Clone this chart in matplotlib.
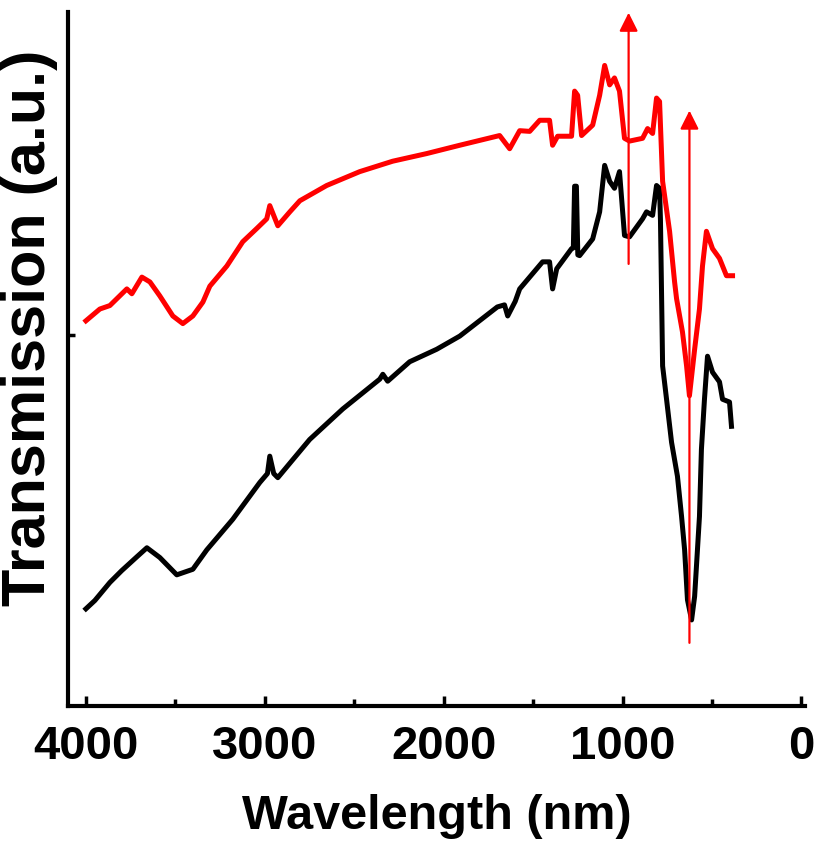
import matplotlib
matplotlib.use("Agg")
import matplotlib.pyplot as plt
from matplotlib.ticker import MultipleLocator

# ---- data (wavelength in nm, transmission in a.u.) ----
black_wl = [4000, 3950, 3866, 3800, 3715, 3659, 3587, 3492, 3402, 3324, 3179, 3028,
            2985, 2972, 2950, 2927, 2843, 2749, 2564, 2357, 2340, 2313, 2190, 2039,
            1910, 1700, 1660, 1642, 1600, 1575, 1447, 1408, 1395, 1391, 1368, 1285,
            1275, 1268, 1258, 1250, 1240, 1167, 1128, 1100, 1072, 1045, 1017, 989,
            961, 888, 866, 832, 810, 793, 788, 780, 776, 754, 726, 693, 670, 653,
            637, 614, 597, 570, 559, 542, 525, 497, 458, 441, 402, 391]
black_val = [14.0, 15.2, 17.8, 19.5, 21.5, 22.8, 21.4, 18.9, 19.7, 22.5, 26.9, 32.2,
             33.5, 36.0, 33.5, 32.9, 35.5, 38.4, 42.8, 47.1, 47.8, 46.8, 49.6, 51.4,
             53.3, 57.5, 57.8, 56.2, 58.3, 60.1, 64.0, 64.0, 61.0, 60.1, 63.0, 65.9,
             66.0, 74.9, 74.9, 65.0, 64.9, 67.3, 71.2, 77.9, 75.6, 74.6, 77.0, 67.8,
             67.6, 70.2, 71.2, 70.7, 75.0, 74.6, 70.0, 56.1, 49.0, 44.2, 38.0, 33.1,
             27.3, 22.5, 15.3, 12.4, 15.8, 27.3, 37.0, 44.2, 50.4, 48.1, 46.7, 44.2,
             43.8, 40.3]

red_wl = [4000, 3922, 3866, 3771, 3743, 3687, 3642, 3587, 3514, 3458, 3402, 3346,
          3307, 3212, 3123, 3045, 2989, 2972, 2927, 2860, 2804, 2654, 2469, 2285,
          2095, 1910, 1687, 1631, 1575, 1519, 1463, 1408, 1391, 1363, 1285, 1268,
          1251, 1229, 1167, 1128, 1100, 1072, 1045, 1017, 989, 961, 888, 860, 832,
          810, 793, 776, 737, 709, 698, 665, 642, 626, 597, 570, 553, 531, 497, 458,
          419, 385]
red_val = [55.5, 57.2, 57.7, 60.1, 59.4, 61.8, 61.1, 59.1, 56.2, 55.1, 56.2, 58.2,
           60.5, 63.4, 66.9, 68.8, 70.2, 72.1, 69.2, 71.2, 72.8, 75.0, 77.0, 78.5,
           79.6, 80.8, 82.2, 80.3, 82.9, 82.8, 84.4, 84.4, 80.8, 82.1, 82.1, 88.6,
           88.0, 82.2, 83.7, 88.0, 92.3, 89.5, 90.5, 88.6, 81.8, 81.4, 81.8, 83.2,
           82.5, 87.6, 87.1, 75.6, 68.4, 61.1, 58.7, 53.9, 49.0, 44.7, 51.4, 57.2,
           63.4, 68.4, 65.9, 64.5, 62.0, 62.0]

# arrows: (wavelength, start value, tip value)
arrow_wl = [966, 626]
arrow_start = [63.7, 9.1]
arrow_tip = [99.9, 85.8]

xticks_major = [4000, 3000, 2000, 1000, 0]
xlabel = "Wavelength (nm)"
ylabel = "Transmission (a.u.)"

plt.rcParams['font.family'] = ['Liberation Sans', 'DejaVu Sans']
plt.rcParams['font.weight'] = 'bold'

fig = plt.figure(figsize=(8.14, 8.46), dpi=100)
ax = fig.add_axes([68/814, 140/846, (805-68)/814, (706-12)/846])

ax.plot(black_wl, black_val, color='black', lw=3.6, solid_joinstyle='round')
ax.plot(red_wl, red_val, color='#ff0000', lw=3.6, solid_joinstyle='round')

for w, s, t in zip(arrow_wl, arrow_start, arrow_tip):
    ax.annotate('', xy=(w, t), xytext=(w, s),
                arrowprops=dict(arrowstyle='-|>', color='#ff0000', lw=1.6,
                                mutation_scale=28, shrinkA=0, shrinkB=0),
                annotation_clip=False)

ax.set_xlim(4100, -20)
ax.set_ylim(0, 100)
ax.set_xticks(xticks_major)
ax.xaxis.set_minor_locator(MultipleLocator(500))
ax.set_yticks([53.5])
ax.set_yticklabels([])

for side in ['top', 'right']:
    ax.spines[side].set_visible(False)
for side in ['left', 'bottom']:
    ax.spines[side].set_linewidth(3.0)

ax.tick_params(axis='x', which='major', direction='in', length=7, width=2.5,
               labelsize=34, pad=14)
ax.tick_params(axis='x', which='minor', direction='in', length=5, width=2.5)
ax.tick_params(axis='y', which='major', direction='in', length=5, width=2.5)
for lab in ax.get_xticklabels():
    lab.set_fontweight('bold')

ax.set_xlabel(xlabel, fontsize=35, fontweight='bold', labelpad=18)
fig.text(30/814, 1 - 328/846, ylabel, rotation=90, fontsize=44,
         fontweight='bold', ha='center', va='center')

fig.savefig('out.png', dpi=100)
